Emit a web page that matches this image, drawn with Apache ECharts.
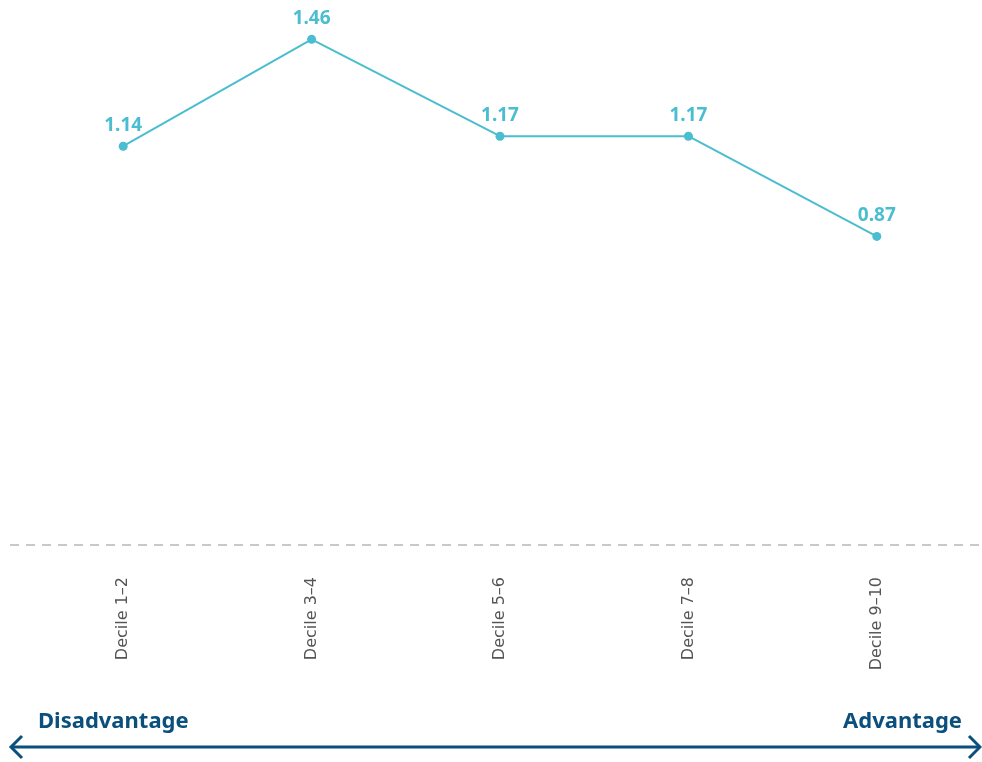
<!DOCTYPE html>
<html>
<head>
<meta charset="utf-8">
<script src="https://cdn.jsdelivr.net/npm/echarts@6/dist/echarts.min.js"></script>
<style>
  html, body { margin: 0; padding: 0; background: #fff; }
  #chart { width: 982px; height: 762px; }
</style>
</head>
<body>
<div id="chart"></div>
<script>
// 分位数组
const categories = ['Decile 1–2', 'Decile 3–4', 'Decile 5–6', 'Decile 7–8', 'Decile 9–10']
const values = [1.14, 1.46, 1.17, 1.17, 0.87]

const lineColor = '#4bbdd0'
const arrowColor = '#0b4f7c'
const fontFamily = '"Noto Sans", "Open Sans", sans-serif'

const myChart = echarts.init(document.getElementById('chart'))
myChart.setOption({
  animation: false,
  grid: {
    left: 29,
    right: 11,
    top: 26,
    bottom: 235
  },
  xAxis: {
    type: 'category',
    data: categories,
    axisLine: { show: false },
    axisTick: { show: false },
    axisLabel: {
      rotate: 90,
      margin: 50,
      color: '#555555',
      fontSize: 16,
      fontFamily: '"DejaVu Sans", sans-serif'
    }
  },
  yAxis: {
    type: 'value',
    min: 0,
    max: 1.5,
    show: false,
    splitLine: { show: false }
  },
  series: [
    {
      type: 'line',
      data: values,
      symbol: 'circle',
      symbolSize: 9,
      lineStyle: { color: lineColor, width: 2 },
      itemStyle: { color: lineColor },
      label: {
        show: true,
        position: 'top',
        distance: 7,
        color: lineColor,
        fontSize: 19,
        fontWeight: 'bold',
        fontFamily: fontFamily,
        formatter: p => p.value.toFixed(2)
      }
    }
  ],
  graphic: [
    // 虚线基线
    {
      type: 'line',
      shape: { x1: 10, y1: 545, x2: 982, y2: 545 },
      style: { stroke: '#c8c8c8', lineWidth: 2, lineDash: [9, 7] }
    },
    // 双向箭头
    {
      type: 'line',
      shape: { x1: 11, y1: 747, x2: 979, y2: 747 },
      style: { stroke: arrowColor, lineWidth: 3 }
    },
    {
      type: 'polyline',
      shape: { points: [[22, 736], [11, 747], [22, 758]] },
      style: { stroke: arrowColor, lineWidth: 3, fill: null }
    },
    {
      type: 'polyline',
      shape: { points: [[969, 736], [980, 747], [969, 758]] },
      style: { stroke: arrowColor, lineWidth: 3, fill: null }
    },
    {
      type: 'text',
      left: 38,
      top: 711,
      style: {
        text: 'Disadvantage',
        fill: arrowColor,
        font: 'bold 22px ' + fontFamily
      }
    },
    {
      type: 'text',
      right: 20,
      top: 711,
      style: {
        text: 'Advantage',
        fill: arrowColor,
        font: 'bold 22px ' + fontFamily
      }
    }
  ]
})
</script>
</body>
</html>
